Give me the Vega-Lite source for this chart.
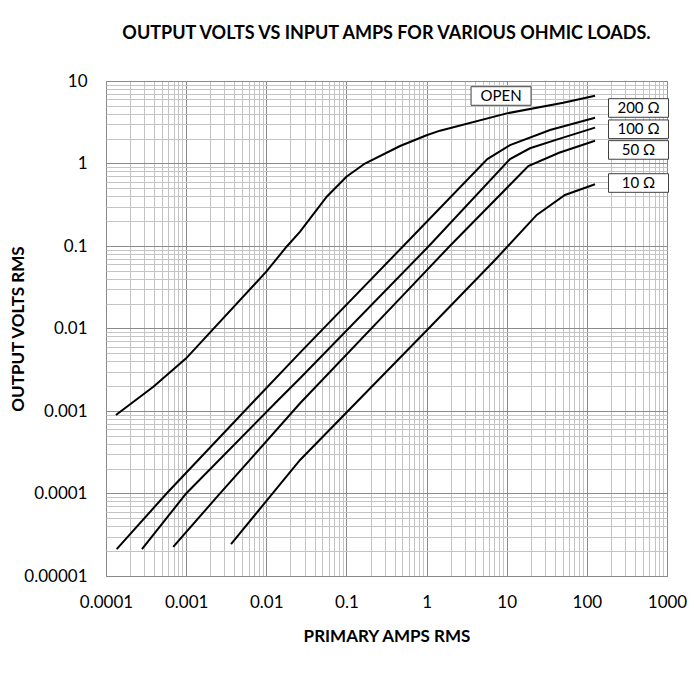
{
  "$schema": "https://vega.github.io/schema/vega-lite/v6.json",
  "width": 561,
  "height": 495,
  "autosize": {"type": "none"},
  "padding": {"left": 106, "top": 81, "right": 31, "bottom": 101},
  "background": "white",
  "config": {"view": {"stroke": "#8a8a8a", "strokeWidth": 1}, "font": "Lato"},
  "title": {"text": "OUTPUT VOLTS VS INPUT AMPS FOR VARIOUS OHMIC LOADS.", "font": "Lato", "fontSize": 18, "fontWeight": "bold", "color": "#000000", "anchor": "middle", "frame": "group", "baseline": "alphabetic", "offset": 15},
  "datasets": {
    "curves": [
      {"series": "OPEN", "amps": 0.000133, "volts": 0.000895},
      {"series": "OPEN", "amps": 0.00039, "volts": 0.00197},
      {"series": "OPEN", "amps": 0.001, "volts": 0.00435},
      {"series": "OPEN", "amps": 0.01, "volts": 0.0489},
      {"series": "OPEN", "amps": 0.0179, "volts": 0.098},
      {"series": "OPEN", "amps": 0.0264, "volts": 0.149},
      {"series": "OPEN", "amps": 0.0568, "volts": 0.396},
      {"series": "OPEN", "amps": 0.1, "volts": 0.69},
      {"series": "OPEN", "amps": 0.17, "volts": 1.0},
      {"series": "OPEN", "amps": 0.467, "volts": 1.63},
      {"series": "OPEN", "amps": 1, "volts": 2.2},
      {"series": "OPEN", "amps": 1.47, "volts": 2.5},
      {"series": "OPEN", "amps": 10, "volts": 4.05},
      {"series": "OPEN", "amps": 50.8, "volts": 5.46},
      {"series": "OPEN", "amps": 126.5, "volts": 6.64},
      {"series": "200", "amps": 0.000136, "volts": 0.0000212},
      {"series": "200", "amps": 0.00057, "volts": 0.0001},
      {"series": "200", "amps": 0.00723, "volts": 0.00136},
      {"series": "200", "amps": 0.0264, "volts": 0.0051},
      {"series": "200", "amps": 0.513, "volts": 0.1},
      {"series": "200", "amps": 5.73, "volts": 1.13},
      {"series": "200", "amps": 11, "volts": 1.67},
      {"series": "200", "amps": 34.7, "volts": 2.55},
      {"series": "200", "amps": 126.5, "volts": 3.59},
      {"series": "100", "amps": 0.000281, "volts": 0.0000212},
      {"series": "100", "amps": 0.001, "volts": 0.0001},
      {"series": "100", "amps": 0.0141, "volts": 0.00136},
      {"series": "100", "amps": 0.0264, "volts": 0.00249},
      {"series": "100", "amps": 1.07, "volts": 0.1},
      {"series": "100", "amps": 11, "volts": 1.13},
      {"series": "100", "amps": 19.5, "volts": 1.53},
      {"series": "100", "amps": 46, "volts": 2.0},
      {"series": "100", "amps": 126.5, "volts": 2.72},
      {"series": "50", "amps": 0.00069, "volts": 0.0000225},
      {"series": "50", "amps": 0.00255, "volts": 0.0000962},
      {"series": "50", "amps": 0.0264, "volts": 0.00124},
      {"series": "50", "amps": 0.467, "volts": 0.0232},
      {"series": "50", "amps": 1.95, "volts": 0.1},
      {"series": "50", "amps": 18.6, "volts": 0.93},
      {"series": "50", "amps": 45, "volts": 1.35},
      {"series": "50", "amps": 126.5, "volts": 1.89},
      {"series": "10", "amps": 0.00363, "volts": 0.0000244},
      {"series": "10", "amps": 0.0264, "volts": 0.000255},
      {"series": "10", "amps": 1.06, "volts": 0.01},
      {"series": "10", "amps": 7.14, "volts": 0.0676},
      {"series": "10", "amps": 23.7, "volts": 0.238},
      {"series": "10", "amps": 53.3, "volts": 0.415},
      {"series": "10", "amps": 126.5, "volts": 0.56}
    ],
    "labels": [
      {"label": "OPEN", "amps": 8.5, "volts": 6.58},
      {"label": "200 Ω", "amps": 441, "volts": 4.71},
      {"label": "100 Ω", "amps": 441, "volts": 2.6},
      {"label": "50 Ω", "amps": 441, "volts": 1.46},
      {"label": "10 Ω", "amps": 441, "volts": 0.58}
    ]
  },
  "encoding": {
    "x": {
      "field": "amps", "type": "quantitative",
      "scale": {"type": "log", "domain": [0.0001, 1000], "nice": false},
      "axis": {
        "values": [0.0001,0.0002,0.0003,0.0004,0.0005,0.0006,0.0007,0.0008,0.0009,0.001,0.002,0.003,0.004,0.005,0.006,0.007,0.008,0.009,0.01,0.02,0.03,0.04,0.05,0.06,0.07,0.08,0.09,0.1,0.2,0.3,0.4,0.5,0.6,0.7,0.8,0.9,1,2,3,4,5,6,7,8,9,10,20,30,40,50,60,70,80,90,100,200,300,400,500,600,700,800,900,1000],
        "labelExpr": "abs(log(datum.value)/LN10 - round(log(datum.value)/LN10)) < 1e-6 ? format(datum.value, '~f') : ''",
        "gridColor": {"condition": {"test": "abs(log(datum.value)/LN10 - round(log(datum.value)/LN10)) < 1e-6", "value": "#8a8a8a"}, "value": "#c4c4c4"},
        "gridWidth": 1,
        "domain": false, "ticks": false,
        "labelPadding": 18, "labelFontSize": 17, "labelFont": "Lato", "labelColor": "#000000",
        "labelOverlap": false, "labelFlush": false, "labelBound": false,
        "title": "PRIMARY AMPS RMS", "titleFont": "Lato", "titleFontSize": 17, "titleFontWeight": "bold", "titleColor": "#000000",
        "titleX": 280.5, "titleY": 60, "titleAlign": "center", "titleBaseline": "middle"
      }
    },
    "y": {
      "field": "volts", "type": "quantitative",
      "scale": {"type": "log", "domain": [0.00001, 10], "nice": false},
      "axis": {
        "values": [0.00001,0.00002,0.00003,0.00004,0.00005,0.00006,0.00007,0.00008,0.00009,0.0001,0.0002,0.0003,0.0004,0.0005,0.0006,0.0007,0.0008,0.0009,0.001,0.002,0.003,0.004,0.005,0.006,0.007,0.008,0.009,0.01,0.02,0.03,0.04,0.05,0.06,0.07,0.08,0.09,0.1,0.2,0.3,0.4,0.5,0.6,0.7,0.8,0.9,1,2,3,4,5,6,7,8,9,10],
        "labelExpr": "abs(log(datum.value)/LN10 - round(log(datum.value)/LN10)) < 1e-6 ? format(datum.value, '~f') : ''",
        "gridColor": {"condition": {"test": "abs(log(datum.value)/LN10 - round(log(datum.value)/LN10)) < 1e-6", "value": "#8a8a8a"}, "value": "#c4c4c4"},
        "gridWidth": 1,
        "domain": false, "ticks": false,
        "labelPadding": 19, "labelFontSize": 17, "labelFont": "Lato", "labelColor": "#000000",
        "labelOverlap": false, "labelFlush": false, "labelBound": false,
        "title": "OUTPUT VOLTS RMS", "titleFont": "Lato", "titleFontSize": 17, "titleFontWeight": "bold", "titleColor": "#000000",
        "titleX": -88, "titleY": 247.5, "titleAngle": -90, "titleAlign": "center", "titleBaseline": "middle"
      }
    }
  },
  "layer": [
    {
      "data": {"name": "curves"},
      "mark": {"type": "line", "color": "#000000", "strokeWidth": 2},
      "encoding": {"detail": {"field": "series", "type": "nominal"}}
    },
    {
      "data": {"name": "labels"},
      "mark": {"type": "point", "shape": "M-1,-0.31H1V0.31H-1Z", "size": 3600, "filled": true, "fill": "#ffffff", "stroke": "#404040", "strokeWidth": 1, "opacity": 1}
    },
    {
      "data": {"name": "labels"},
      "mark": {"type": "text", "font": "Lato", "fontSize": 15, "color": "#000000", "align": "center", "baseline": "middle"},
      "encoding": {"text": {"field": "label", "type": "nominal"}}
    }
  ]
}
